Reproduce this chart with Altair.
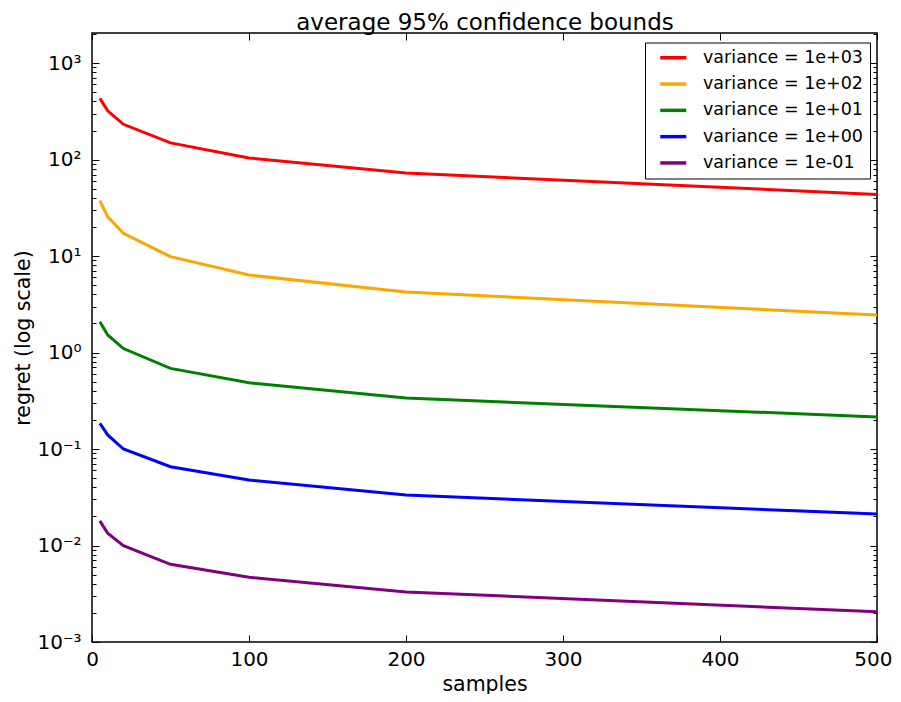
import altair as alt
import pandas as pd

samples = [5, 10, 20, 50, 100, 200, 500]
series_names = ["variance = 1e+03", "variance = 1e+02", "variance = 1e+01",
                "variance = 1e+00", "variance = 1e-01"]
series_colors = ["#ff0000", "#ffa500", "#008000", "#0000ff", "#800080"]

regret_1e3 = [431, 320, 232, 149, 104, 72.6, 43.5]
regret_1e2 = [37.4, 25.5, 17.2, 9.85, 6.35, 4.24, 2.45]
regret_1e1 = [2.08, 1.52, 1.10, 0.685, 0.486, 0.337, 0.215]
regret_1e0 = [0.185, 0.140, 0.100, 0.0656, 0.0478, 0.0333, 0.0212]
regret_1em1 = [0.0180, 0.0134, 0.00995, 0.00638, 0.00468, 0.0033, 0.00206]

all_series = [regret_1e3, regret_1e2, regret_1e1, regret_1e0, regret_1em1]

chart_title = "average 95% confidence bounds"
x_major = [0, 100, 200, 300, 400, 500]
y_major = [0.001, 0.01, 0.1, 1, 10, 100, 1000]
y_minor = [m * 10.0 ** k for k in range(-3, 3) for m in range(2, 10)] + [2000]

rows = []
for name, vals in zip(series_names, all_series):
    for s, v in zip(samples, vals):
        rows.append({"samples": s, "regret": v, "series": name})
df = pd.DataFrame(rows)

x_scale = alt.Scale(domain=[0, 500], nice=False, zero=False)
y_scale = alt.Scale(type="log", domain=[0.001, 2050], nice=False)

y_label_expr = (
    "datum.value >= 999 ? '10³' : datum.value >= 99 ? '10²' : "
    "datum.value >= 9 ? '10¹' : datum.value >= 0.9 ? '10⁰' : "
    "datum.value >= 0.09 ? '10⁻¹' : datum.value >= 0.009 ? '10⁻²' : '10⁻³'"
)

base = alt.Chart(df)

lines = base.mark_line(strokeWidth=3, clip=True).encode(
    x=alt.X("samples:Q", scale=x_scale,
            axis=alt.Axis(values=x_major, orient="bottom", offset=-7, tickSize=7,
                          labelPadding=7, labelFlush=False, labelOverlap=False,
                          labelAlign={"condition": {"test": "datum.value == 500", "value": "right"},
                                      "value": "center"},
                          labelOffset={"condition": {"test": "datum.value == 500", "value": 15},
                                       "value": 0},
                          title="samples", titlePadding=5, format="d")),
    y=alt.Y("regret:Q", scale=y_scale,
            axis=alt.Axis(values=y_major, orient="left", offset=-7, tickSize=7,
                          labelPadding=11, labelFlush=False, labelOverlap=False,
                          labelExpr=y_label_expr,
                          title="regret (log scale)", titlePadding=3)),
    color=alt.Color("series:N",
                    scale=alt.Scale(domain=series_names, range=series_colors),
                    legend=alt.Legend(title=None, orient="none", legendX=553, legendY=9.5,
                                      padding=6.5, rowPadding=7.3,
                                      symbolType="M-2,0H2", symbolSize=169,
                                      symbolStrokeWidth=3.5, symbolOffset=13,
                                      labelOffset=21, labelFontSize=17.5,
                                      labelColor="black", strokeColor="black",
                                      fillColor="white", labelLimit=300)),
)

minor_left = base.mark_line(strokeOpacity=0).encode(
    x=alt.X("samples:Q", scale=x_scale,
            axis=alt.Axis(values=x_major, orient="top", offset=-7, tickSize=7,
                          labels=False, minExtent=0, title=chart_title,
                          titleFontSize=23, titleBaseline="alphabetic",
                          titlePadding=3.5)),
    y=alt.Y("regret:Q", scale=y_scale,
            axis=alt.Axis(values=y_minor, orient="left", offset=-4, tickSize=4,
                          labels=False, title=None)),
    detail="series:N",
)

major_right = base.mark_line(strokeOpacity=0).encode(
    x=alt.X("samples:Q", scale=x_scale, axis=None),
    y=alt.Y("regret:Q", scale=y_scale,
            axis=alt.Axis(values=y_major, orient="right", offset=-7, tickSize=7,
                          labels=False, title=None)),
    detail="series:N",
)

minor_right = base.mark_line(strokeOpacity=0).encode(
    x=alt.X("samples:Q", scale=x_scale, axis=None),
    y=alt.Y("regret:Q", scale=y_scale,
            axis=alt.Axis(values=y_minor, orient="right", offset=-4, tickSize=4,
                          labels=False, title=None)),
    detail="series:N",
)

chart = (
    alt.layer(lines, minor_left, major_right, minor_right)
    .resolve_axis(x="independent", y="independent")
    .properties(
        width=785, height=609,
        padding={"left": 84, "top": 25, "right": 16, "bottom": 52},
        autosize=alt.AutoSizeParams(type="none"),
    )
    .configure(font="DejaVu Sans")
    .configure_view(stroke="black", strokeWidth=1.5)
    .configure_axis(grid=False, domain=False, tickColor="black", tickWidth=1,
                    labelFontSize=20, labelColor="black", labelFont="DejaVu Sans",
                    titleFontSize=20.5, titleFontWeight="normal", titleColor="black",
                    titleFont="DejaVu Sans")
)

chart.save("out.html", embed_options={"renderer": "svg", "actions": False})
